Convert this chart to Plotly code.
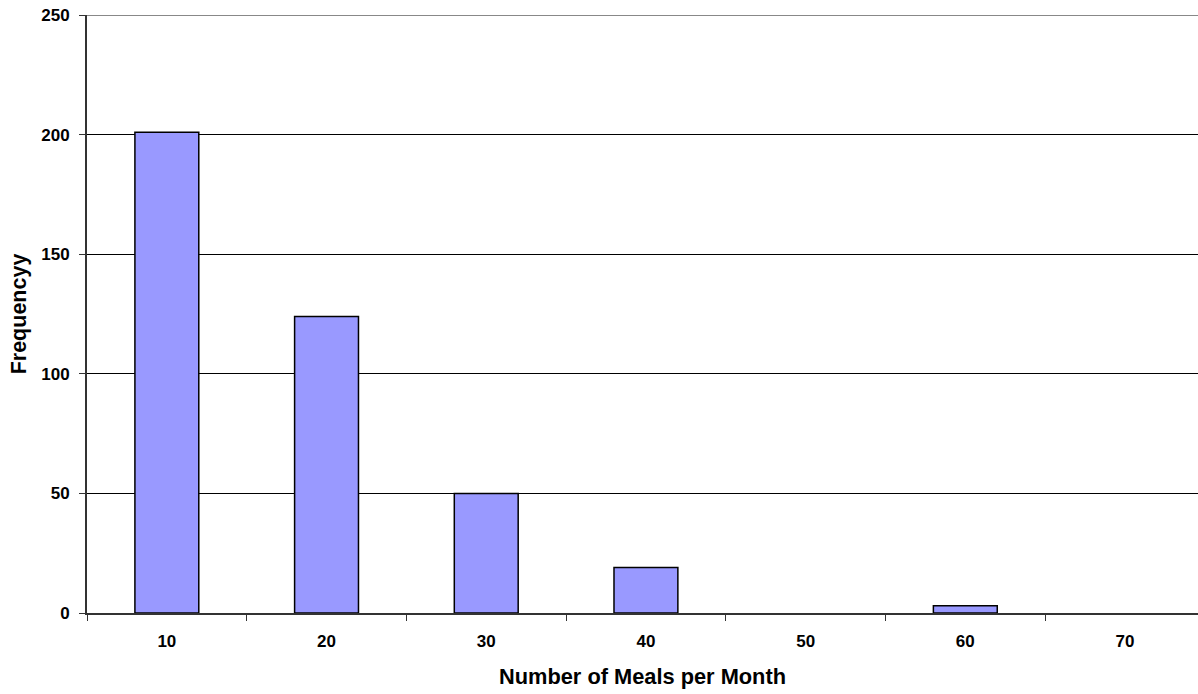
import plotly.graph_objects as go

categories = ["10", "20", "30", "40", "50", "60", "70"]
frequency = [201, 124, 50, 19, 0, 3, 0]
y_ticks = [0, 50, 100, 150, 200, 250]

FONT = "Liberation Sans, Arial, sans-serif"

fig = go.Figure()
fig.add_trace(go.Bar(
    x=categories, y=frequency, width=0.4,
    marker=dict(color="#9999FF",
                line=dict(color="#000000", width=[1.5 if v > 0 else 0 for v in frequency])),
))

fig.update_layout(
    width=1198, height=694,
    margin=dict(l=87, r=0, t=15, b=81),
    paper_bgcolor="white", plot_bgcolor="white",
    showlegend=False,
    font=dict(family=FONT, color="black"),
    xaxis=dict(
        type="category", range=[-0.5, 6.457],
        showline=True, linecolor="#333333", linewidth=2,
        ticks="outside", ticklen=6, tickcolor="#333333", tickson="boundaries",
        tickfont=dict(family=FONT, size=17, color="black", weight="bold"),
        ticklabelstandoff=12,
        title=dict(text="<b>Number of Meals per Month</b>", font=dict(family=FONT, size=21.8, color="black"), standoff=18),
        showgrid=False, zeroline=False,
    ),
    yaxis=dict(
        range=[0, 250], tickvals=y_ticks,
        showline=True, linecolor="#333333", linewidth=2,
        ticks="outside", ticklen=6, tickcolor="#333333",
        tickfont=dict(family=FONT, size=17, color="black", weight="bold"),
        ticklabelstandoff=6,
        showgrid=True, gridcolor="#000000", gridwidth=1,
        zeroline=False,
        title=dict(text="<b>Frequencyy</b>", font=dict(family=FONT, size=21.5, color="black"), standoff=9),
    ),
)

fig.add_shape(type="line", xref="paper", yref="y", x0=0, x1=1, y0=250, y1=250,
              line=dict(color="#888888", width=2))

fig.write_html("out.html")
